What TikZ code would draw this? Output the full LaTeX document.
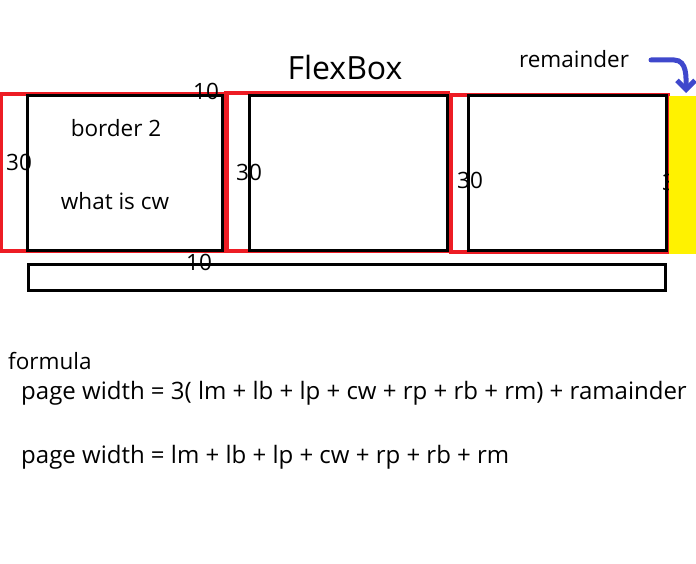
\documentclass[tikz,border=0pt]{standalone}
\usepackage{fontspec}
\setmainfont{Open Sans}
\usetikzlibrary{arrows.meta}
\definecolor{boxred}{RGB}{237,28,36}
\definecolor{arrowblue}{RGB}{63,72,204}
\definecolor{remyellow}{RGB}{255,242,0}
\tikzset{lbl/.style={font=\fontsize{22.5}{26}\selectfont, inner sep=0pt}}

\begin{document}
\begin{tikzpicture}[x=1pt,y=-1pt]
\useasboundingbox (0,0) rectangle (696,564);
% outer (margin) boxes
\draw[boxred,line width=3.5] (1,94) rectangle (223,251);
\draw[boxred,line width=3.5] (226,93) rectangle (448,251);
\draw[boxred,line width=5.5] (226,93)--(226,251);
\draw[boxred,line width=3.5] (451,95) rectangle (668,252);
% content boxes
\draw[line width=3] (27,96) rectangle (222,250);
\draw[line width=3] (249,96) rectangle (447,250);
\draw[line width=3] (468,96) rectangle (666,250);
\draw[line width=3] (28,264) rectangle (665,290);
% numbers
\node[lbl] (t1) at (206,91) {10};
\node[lbl] (t2) at (199,262) {10};
\node[lbl] (l1) at (19,162) {30};
\node[lbl] (l2) at (249,172) {30};
\node[lbl] (l3) at (470,180) {30};
\node[lbl] (l4) at (675,182) {30};
% remainder
\fill[remyellow] (669,96) rectangle (696,254);
\node[lbl,font=\fontsize{32}{38}\selectfont] (title) at (345,68) {FlexBox};
\node[lbl] (rem) at (574,59) {remainder};
\coordinate (a0) at (651,60);
\coordinate (a1) at (686,93);
\draw[arrowblue,line width=5,line cap=round,-{Straight Barb[length=9pt,width=18pt]}]
  (a0) -- (674,60) to[out=0,in=90] (a1);
\node[lbl] (b2) at (116,128) {border 2};
\node[lbl] (cw) at (115,201) {what is cw};
% formula
\node[lbl,anchor=west] (f0) at (8,361) {formula};
\node[lbl,anchor=west,font=\fontsize{24}{28}\selectfont] (f1) at (21,393) {page width = 3( lm + lb + lp + cw + rp + rb + rm) + ramainder};
\node[lbl,anchor=west,font=\fontsize{24}{28}\selectfont] (f2) at (21,457) {page width = lm + lb + lp + cw + rp + rb + rm};
\end{tikzpicture}
\end{document}
